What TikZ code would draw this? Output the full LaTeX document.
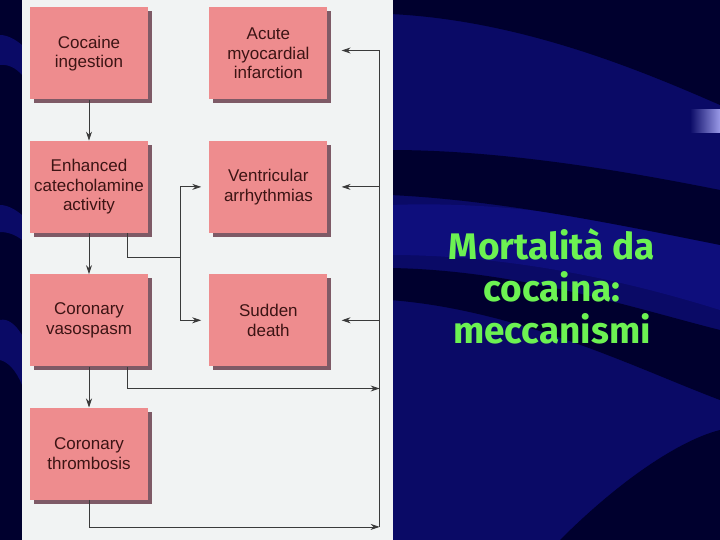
\documentclass[tikz,border=0pt]{standalone}
\usepackage{fontspec}
\setmainfont{Liberation Sans}
\newfontfamily\titlefont{Fira Sans}
\usetikzlibrary{arrows.meta,positioning,calc,shadows}
\definecolor{Navy}{HTML}{00002E}
\definecolor{Wave}{HTML}{0A0A66}
\definecolor{WaveLite}{HTML}{0E0E7C}
\definecolor{Sheet}{HTML}{F1F3F3}
\definecolor{Salmon}{HTML}{EE8C8E}
\definecolor{Rim}{HTML}{7E5A66}
\definecolor{Ink}{HTML}{3C1414}
\definecolor{Wire}{HTML}{3A3A3A}
\definecolor{Lime}{HTML}{6CF252}
\definecolor{Bevel}{HTML}{9A9AE8}
\tikzset{
  card/.style={fill=Salmon, minimum width=118pt, minimum height=92pt, align=center,
               text=Ink, font=\fontsize{17}{19.5}\selectfont, inner sep=2pt,
               drop shadow={shadow xshift=4pt, shadow yshift=-4pt, fill=Rim, opacity=1}},
  wire/.style={draw=Wire, line width=0.8pt},
  arr/.style={wire, -{Stealth[length=9pt,width=6pt]}},
  heading/.style={text=Lime, font=\titlefont\bfseries\fontsize{37}{42}\selectfont, align=center},
}

\begin{document}
\begin{tikzpicture}[x=1pt, y=1pt, node distance=41pt and 61pt]
  \useasboundingbox (0,0) rectangle (720,-540);
  % slide background
  \fill[Wave] (0,0) rectangle (720,-540);
  \fill[WaveLite] (390,-205) .. controls (520,-200) and (640,-225) .. (720,-245)
    -- (720,-310) .. controls (640,-285) and (520,-255) .. (390,-255) -- cycle;
  \fill[Navy] (390,0) -- (720,0) -- (720,-105)
    .. controls (640,-70) and (520,-20) .. (390,-14) -- cycle;
  \fill[Navy] (390,-150) .. controls (500,-150) and (620,-170) .. (720,-190)
    -- (720,-245) .. controls (620,-225) and (500,-200) .. (390,-195) -- cycle;
  \fill[Navy] (390,-268) .. controls (520,-270) and (640,-310) .. (720,-330)
    -- (720,-400) .. controls (640,-370) and (520,-310) .. (390,-300) -- cycle;
  \fill[Navy] (560,-540) .. controls (620,-480) and (680,-440) .. (720,-430) -- (720,-540) -- cycle;
  \fill[Navy] (0,0) rectangle (22,-540);
  \fill[Wave] (0,-35) .. controls (8,-35) and (16,-40) .. (22,-45) -- (22,-75)
    .. controls (16,-68) and (8,-64) .. (0,-65) -- cycle;
  \fill[Wave] (0,-205) .. controls (8,-205) and (16,-210) .. (22,-215) -- (22,-240)
    .. controls (16,-235) and (8,-232) .. (0,-232) -- cycle;
  \fill[Wave] (0,-320) .. controls (8,-318) and (16,-325) .. (22,-335) -- (22,-385)
    .. controls (16,-370) and (8,-362) .. (0,-360) -- cycle;
  \shade[left color=Wave, right color=Bevel] (690,-110) rectangle (720,-133);
  \fill[Sheet] (22,0) rectangle (393,-540);

  % boxes
  \node[card] (coc) at (89,-53.5) {Cocaine\\ingestion};
  \node[card, below=of coc] (enh) {Enhanced\\catecholamine\\activity};
  \node[card, below=of enh] (vas) {Coronary\\vasospasm};
  \node[card, below=of vas] (thr) {Coronary\\thrombosis};
  \node[card, right=of coc] (ami) {Acute\\myocardial\\infarction};
  \node[card, right=of enh] (ven) {Ventricular\\arrhythmias};
  \node[card, right=of vas] (sud) {Sudden\\death};

  % left column chain
  \draw[arr] (coc) -- (enh);
  \draw[arr] (enh) -- (vas);
  \draw[arr] (vas) -- (thr);

  % branch to arrhythmias and sudden death
  \coordinate (enhout) at ($(enh.south east)+(-21,0)$);
  \coordinate (split) at ($(enhout)+(53,-24)$);
  \draw[wire] (enhout) |- (split);
  \draw[arr, shorten >=8pt] (split) |- (ven.west);
  \draw[arr, shorten >=8pt] (split) |- (sud.west);

  % bus on the right
  \coordinate (bustop) at ($(ami.east)+(52,3)$);
  \coordinate (thrlow) at ($(thr.south)+(0,-27)$);
  \coordinate (busbot) at (bustop |- thrlow);
  \coordinate (vasout) at ($(vas.south east)+(-21,0)$);
  \coordinate (vaslow) at ($(vasout)+(0,-22)$);
  \draw[wire] (bustop) -- (busbot);
  \draw[arr, shorten >=14pt] (bustop) -- (bustop -| ami.east);
  \draw[arr, shorten >=14pt] (bustop |- ven.east) -- (ven.east);
  \draw[arr, shorten >=14pt] (bustop |- sud.east) -- (sud.east);
  \draw[arr] (vasout) -- (vaslow) -- (bustop |- vaslow);
  \draw[arr] (thr.south) -- (thrlow) -- (busbot);

  % title
  \node[heading] (title) at (552,-286) {Mortalità da\\cocaina:\\meccanismi};
\end{tikzpicture}
\end{document}
